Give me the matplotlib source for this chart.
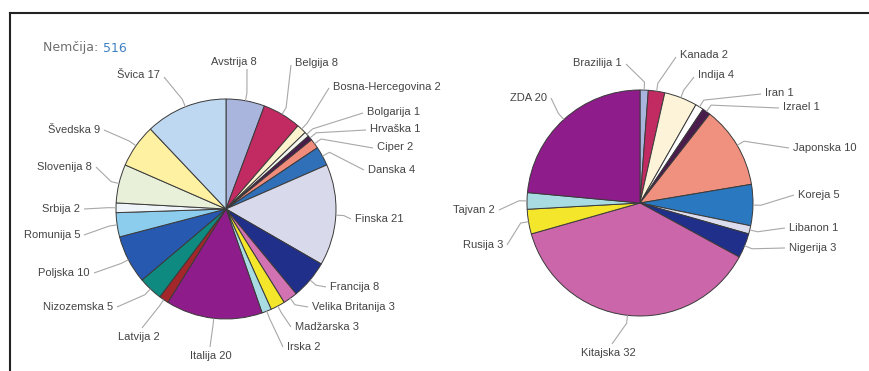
import numpy as np
import matplotlib.pyplot as plt

plt.rcParams['font.family'] = ['Liberation Sans', 'DejaVu Sans']

W, H = 869, 371

# levo: Nemčija, desno: ostale države
eu_names = ["Avstrija", "Belgija", "Bosna-Hercegovina", "Bolgarija", "Hrvaška",
            "Ciper", "Danska", "Finska", "Francija", "Velika Britanija",
            "Madžarska", "Irska", "Italija", "Latvija", "Nizozemska", "Poljska",
            "Romunija", "Srbija", "Slovenija", "Švedska", "Švica"]
eu_values = [8, 8, 2, 1, 1, 2, 4, 21, 8, 3, 3, 2, 20, 2, 5, 10, 5, 2, 8, 9, 17]
eu_colors = ["#a9b5dc", "#c22a62", "#fdf3cf", "#f6f6f0", "#4a1c4c",
             "#f08c7c", "#2f70b8", "#d9d9ec", "#1f2f8a", "#d272b2",
             "#f4e62a", "#a8dce2", "#8e1c8a", "#a3262a", "#0f8a80", "#2759b0",
             "#8ccdee", "#eef4f8", "#e9f0da", "#fff1a2", "#bdd8f0"]

world_names = ["Brazilija", "Kanada", "Indija", "Iran", "Izrael", "Japonska",
               "Koreja", "Libanon", "Nigerija", "Kitajska", "Rusija", "Tajvan", "ZDA"]
world_values = [1, 2, 4, 1, 1, 10, 5, 1, 3, 32, 3, 2, 20]
world_colors = ["#a9b5dc", "#c22a62", "#fdf3d8", "#ffffff", "#4a1c4c", "#f0907f",
                "#2a78c0", "#dcdcef", "#1f2f8a", "#cc66aa", "#f4e62a", "#a8dce2",
                "#8e1c8a"]

total_label = "516"

# postavitev oznak (x, y, poravnava, konec črte) v pikslih od zgoraj levo
eu_labels = [
    (234, 62, 'center', (247, 69)),
    (295, 63, 'left', (291, 65)),
    (333, 87, 'left', (329, 88)),
    (367, 112, 'left', (363, 113)),
    (370, 129, 'left', (366, 130)),
    (377, 147, 'left', (373, 148)),
    (368, 170, 'left', (364, 170)),
    (355, 219, 'left', (351, 219)),
    (330, 287, 'left', (326, 287)),
    (312, 307, 'left', (308, 307)),
    (295, 327, 'left', (291, 327)),
    (287, 347, 'left', (283, 347)),
    (211, 356, 'center', (210, 347)),
    (139, 337, 'center', (142, 328)),
    (113, 307, 'right', (117, 307)),
    (90, 273, 'right', (94, 273)),
    (80, 235, 'right', (84, 235)),
    (80, 209, 'right', (84, 209)),
    (92, 167, 'right', (96, 167)),
    (100, 130, 'right', (104, 130)),
    (160, 75, 'right', (164, 77)),
]
world_labels = [
    (622, 63, 'right', (626, 64)),
    (680, 55, 'left', (676, 57)),
    (698, 75, 'left', (694, 77)),
    (765, 93, 'left', (761, 94)),
    (783, 107, 'left', (779, 108)),
    (793, 148, 'left', (789, 148)),
    (798, 195, 'left', (794, 195)),
    (789, 228, 'left', (785, 228)),
    (789, 248, 'left', (785, 248)),
    (608, 353, 'center', (612, 344)),
    (503, 245, 'right', (507, 245)),
    (495, 210, 'right', (499, 210)),
    (547, 98, 'right', (551, 98)),
]


def draw_pie(ax, values, colors, names, labels, cx, cy, r):
    wedges, _ = ax.pie(values, colors=colors, startangle=90, counterclock=False,
                       center=(cx, H - cy), radius=r,
                       wedgeprops=dict(edgecolor='#3a3a3a', linewidth=0.7))
    for w, name, val, (tx, ty, ha, end) in zip(wedges, names, values, labels):
        ang = np.deg2rad((w.theta1 + w.theta2) / 2)
        x0 = cx + r * np.cos(ang)
        y0 = (H - cy) + r * np.sin(ang)
        x1 = cx + (r + 8) * np.cos(ang)
        y1 = (H - cy) + (r + 8) * np.sin(ang)
        ax.plot([x0, x1, end[0]], [y0, y1, H - end[1]], color='#a8a8a8',
                linewidth=0.8, solid_capstyle='butt')
        ax.text(tx, H - ty, f"{name} {val}", ha=ha, va='center',
                fontsize=8, color='#444444')


fig = plt.figure(figsize=(W / 100, H / 100), dpi=100)
ax = fig.add_axes([0, 0, 1, 1])

draw_pie(ax, eu_values, eu_colors, eu_names, eu_labels, 226, 209, 110)
draw_pie(ax, world_values, world_colors, world_names, world_labels, 640, 203, 113)

# naslov
t = ax.text(43, H - 48, "Nemčija: ", ha='left', va='center', fontsize=9,
            color='#6e6e6e', family='DejaVu Sans')
ax.text(103, H - 48, total_label, ha='left', va='center', fontsize=9,
        color='#3f80c4', family='DejaVu Sans')

# okvir zgoraj in levo
ax.plot([10, W], [H - 13, H - 13], color='#222222', linewidth=1.5)
ax.plot([10, 10], [H - 13, 0], color='#222222', linewidth=1.5)

ax.set_xlim(0, W)
ax.set_ylim(0, H)
ax.set_aspect('auto')
ax.axis('off')

fig.savefig("out.png", dpi=100)
